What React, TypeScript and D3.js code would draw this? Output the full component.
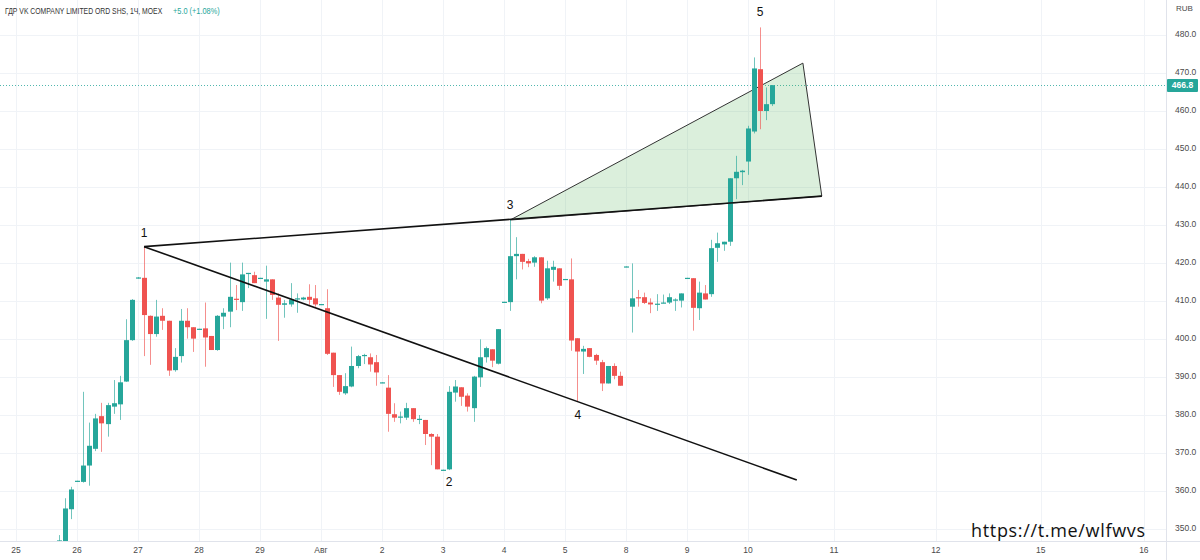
import React from "react";
import * as d3 from "d3";

// ---------- data ----------
const title = "ГДР VK COMPANY LIMITED ORD SHS, 1Ч, MOEX";
const changeText = "+5.0 (+1.08%)";
const currency = "RUB";
const watermark = "https://t.me/wlfwvs";

const dayLabels = ["25", "26", "27", "28", "29", "Авг", "2", "3", "4", "5", "8", "9", "10"];
const barsPerDay = 10;
const futureLabels = ["11", "12", "15", "16"];
const futureTickIdx = [134.1, 150.8, 168.0, 184.9];
const priceTicks = [350, 360, 370, 380, 390, 400, 410, 420, 430, 440, 450, 460, 470, 480];
const lastPrice = 466.8;

const firstIdx = 7; // first visible hourly bar
const opens = [
  344.0, 346.5, 355.2, 362.5, 362.4, 366.7, 371.1, 379.7, 377.6, 382.2, 382.8, 388.8, 399.7,
  416.0, 416.1, 406.1, 401.3, 406.1, 404.8, 391.8, 395.5, 404.8, 403.1,
  402.5, 402.8, 400.8, 397.1, 405.9, 407.2, 410.6, 409.7, 417.2, 416.8,
  415.9, 415.1, 415.7, 410.9, 409.0, 409.1, 410.6, 410.4, 411.1, 410.7,
  409.0, 408.1, 396.4, 390.5, 385.7, 387.5, 392.9, 395.6, 395.2, 393.9,
  388.4, 387.2, 380.2, 379.4, 379.3, 381.8, 378.8, 378.7, 375.0, 374.3,
  365.4, 365.7, 385.9, 387.3, 385.1, 381.8, 389.9, 395.2, 397.3, 393.5,
  409.6, 409.7, 421.8, 422.4, 420.5, 420.1, 421.5, 410.7, 418.2, 418.6,
  415.6, 415.7, 400.2, 396.7, 397.6, 395.8, 393.9, 388.3, 392.9, 390.3,
  418.9, 408.5, 411.0, 411.0, 409.6, 409.1, 409.4, 409.6, 410.2, 410.1,
  415.9, 416.0, 408.1, 412.0, 411.8, 424.0, 424.9, 425.6, 442.3, 443.9,
  446.7, 454.6, 471.0, 460.0, 461.8,
];
const highs = [
  348.4, 358.1, 361.1, 362.7, 386.1, 378.0, 380.3, 383.2, 383.2, 389.2, 390.3, 405.2, 410.5,
  416.3, 424.3, 406.2, 410.3, 408.1, 404.8, 397.6, 407.9, 408.1, 403.1,
  402.7, 409.6, 400.8, 406.3, 408.1, 420.1, 414.2, 420.1, 417.4, 417.7,
  416.1, 419.3, 415.7, 412.0, 410.3, 414.7, 412.0, 411.1, 414.4, 414.2,
  409.2, 413.1, 396.4, 390.5, 391.0, 398.0, 395.8, 396.1, 396.2, 395.8,
  388.6, 390.5, 383.1, 380.9, 383.2, 381.8, 380.0, 378.7, 375.2, 375.0,
  365.6, 387.6, 389.2, 387.3, 385.7, 390.3, 399.9, 398.0, 397.3, 402.6,
  409.8, 431.3, 426.8, 422.4, 421.1, 421.8, 421.5, 420.6, 420.6, 418.6,
  415.8, 421.2, 400.2, 398.2, 397.6, 396.1, 394.5, 392.9, 393.6, 391.4,
  419.1, 419.9, 412.9, 412.2, 410.7, 411.8, 411.7, 412.0, 410.7, 412.0,
  416.1, 416.0, 415.1, 414.2, 426.1, 428.0, 425.6, 442.3, 448.2, 444.5,
  456.1, 474.1, 482.0, 466.2, 466.8,
];
const lows = [
  343.0, 345.5, 352.6, 362.5, 362.2, 361.4, 370.5, 370.3, 374.3, 380.3, 378.7, 388.7, 399.5,
  415.9, 395.5, 393.2, 400.6, 402.4, 390.3, 391.4, 393.8, 400.1, 396.6,
  402.5, 392.7, 397.1, 396.9, 402.6, 403.1, 407.6, 407.4, 413.4, 414.7,
  415.9, 405.3, 410.3, 399.5, 405.6, 408.5, 406.9, 410.2, 409.0, 408.5,
  409.0, 395.8, 387.4, 385.3, 385.3, 387.3, 392.3, 393.4, 391.4, 387.7,
  388.4, 375.6, 378.2, 377.8, 378.7, 378.2, 377.6, 372.1, 366.8, 365.7,
  365.4, 365.5, 383.5, 382.4, 380.9, 378.2, 387.4, 393.8, 392.6, 393.3,
  409.6, 407.4, 415.7, 418.3, 418.9, 419.0, 409.4, 410.3, 415.1, 412.9,
  415.6, 396.9, 383.5, 390.8, 395.2, 393.2, 386.3, 388.3, 389.4, 387.7,
  418.9, 401.7, 408.5, 409.2, 406.8, 407.4, 409.4, 409.2, 407.4, 408.3,
  415.9, 402.2, 405.0, 410.4, 411.1, 420.3, 423.2, 424.5, 436.8, 440.5,
  443.2, 454.1, 455.2, 457.6, 461.3,
];
const closes = [
  347.0, 355.4, 360.4, 362.7, 366.7, 371.9, 379.1, 377.8, 382.6, 383.1, 388.6, 399.7, 410.3,
  416.2, 406.3, 401.3, 405.9, 404.8, 391.7, 395.3, 404.8, 403.1, 400.1,
  402.7, 400.4, 397.1, 406.1, 406.9, 411.1, 410.3, 417.0, 417.4, 414.7,
  416.1, 415.7, 411.6, 409.0, 409.4, 410.4, 410.7, 410.9, 410.3, 409.1,
  409.2, 396.1, 390.5, 386.1, 387.6, 392.9, 395.5, 395.8, 393.3, 391.2,
  388.6, 380.3, 379.3, 379.6, 381.8, 378.9, 379.0, 375.0, 374.3, 365.7,
  365.6, 386.1, 387.5, 384.8, 382.2, 390.1, 395.2, 397.6, 394.3, 402.6,
  409.8, 421.8, 422.4, 420.3, 419.9, 421.5, 410.1, 418.6, 419.0, 414.0,
  415.8, 399.6, 396.7, 397.4, 395.3, 394.3, 388.3, 392.9, 390.3, 387.7,
  419.1, 410.7, 410.8, 409.5, 409.1, 409.3, 409.6, 411.0, 410.4, 412.0,
  416.1, 408.2, 412.2, 410.4, 423.9, 425.2, 425.6, 442.3, 444.0, 444.3,
  455.4, 471.2, 460.0, 461.8, 466.8,
];

// wave drawing anchors, in (bar index, price)
const waveStart = { i: 21, p: 424.3 };
const lowerLineEnd = { i: 128, p: 362.9 };
const wedgeA = { i: 81, p: 431.3 };
const wedgeApex = { i: 129, p: 472.6 };
const wedgeB = { i: 132.1, p: 437.6 };
const waveLabels = [
  { t: "1", i: 21, p: 424.3, dy: -13 },
  { t: "2", i: 71, p: 365.5, dy: 13 },
  { t: "3", i: 81, p: 431.3, dy: -14 },
  { t: "4", i: 92.1, p: 383.5, dy: 14 },
  { t: "5", i: 122, p: 482.0, dy: -15 },
];

// ---------- chart ----------
const W = 1200;
const H = 560;
const plotRight = 1166;
const plotBottom = 541;
const UP = "#26a69a";
const DOWN = "#ef5350";
const GRID = "#f0f3f7";
const BORDER = "#e0e3eb";
const TXT = "#4a4a4a";

export default function App() {
  const x = d3.scaleLinear().domain([0, 124]).range([16, 16 + 124 * 6.1]);
  const y = d3.scaleLinear().domain([350, 480]).range([529, 35]);

  const candles = opens.map((o, k) => ({
    i: k + firstIdx,
    o,
    h: highs[k],
    l: lows[k],
    c: closes[k],
  }));

  const dayTicks = dayLabels.map((t, k) => ({ t, i: k * barsPerDay }));
  const futTicks = futureLabels.map((t, k) => ({ t, i: futureTickIdx[k] }));
  const allTicks = [...dayTicks, ...futTicks];

  const line = d3
    .line<{ i: number; p: number }>()
    .x((d) => x(d.i))
    .y((d) => y(d.p));

  const font = "'Liberation Sans', Arial, sans-serif";

  return (
    <div>
      <style>{`body{margin:0;background:#fff}`}</style>
      <svg width={W} height={H} style={{ display: "block", fontFamily: font }}>
        <rect x={0} y={0} width={W} height={H} fill="#fff" />
        <defs>
          <clipPath id="plot">
            <rect x={0} y={0} width={plotRight} height={plotBottom} />
          </clipPath>
        </defs>

        {/* grid */}
        {priceTicks.map((p) => (
          <line key={"h" + p} x1={0} x2={plotRight} y1={Math.round(y(p)) + 0.5} y2={Math.round(y(p)) + 0.5} stroke={GRID} />
        ))}
        {allTicks.map((d) => (
          <line key={"v" + d.t} y1={0} y2={plotBottom} x1={Math.round(x(d.i)) + 0.5} x2={Math.round(x(d.i)) + 0.5} stroke={GRID} />
        ))}

        <g clipPath="url(#plot)">
          {/* current price dotted line */}
          <line x1={0} x2={plotRight} y1={Math.round(y(lastPrice)) + 0.5} y2={Math.round(y(lastPrice)) + 0.5} stroke={UP} strokeDasharray="1,2" opacity={0.8} />

          {/* wedge fill */}
          <path
            d={line([wedgeA, wedgeApex, wedgeB])! + "Z"}
            fill="rgba(76,175,80,0.2)"
            stroke="#333"
            strokeWidth={1}
          />

          {/* candles */}
          {candles.map((d) => {
            const col = d.c >= d.o ? UP : DOWN;
            const cx = Math.round(x(d.i));
            const top = y(Math.max(d.o, d.c));
            const bot = y(Math.min(d.o, d.c));
            return (
              <g key={d.i}>
                <line x1={cx + 0.5} x2={cx + 0.5} y1={y(d.h)} y2={y(d.l)} stroke={col} strokeOpacity={0.65} />
                <rect x={cx - 2} y={top} width={5} height={Math.max(1.2, bot - top)} fill={col} />
              </g>
            );
          })}

          {/* wave lines */}
          <path d={line([waveStart, wedgeB])!} stroke="#111" strokeWidth={1.6} fill="none" />
          <path d={line([waveStart, lowerLineEnd])!} stroke="#111" strokeWidth={1.6} fill="none" />

          {waveLabels.map((d) => (
            <text key={d.t} x={x(d.i)} y={y(d.p) + d.dy} textAnchor="middle" dominantBaseline="middle" fontSize={12} fill="#111">
              {d.t}
            </text>
          ))}
        </g>

        {/* borders */}
        <line x1={0} x2={W} y1={plotBottom + 0.5} y2={plotBottom + 0.5} stroke={BORDER} />
        <line x1={plotRight + 0.5} x2={plotRight + 0.5} y1={0} y2={H} stroke={BORDER} />

        {/* price axis */}
        <text x={1176} y={11} fontSize={8} fill={TXT}>
          {currency}
        </text>
        {priceTicks.map((p) => (
          <text key={"pt" + p} x={1175} y={y(p)} dominantBaseline="middle" fontSize={8.5} fill={TXT}>
            {p.toFixed(1)}
          </text>
        ))}
        <rect x={1167} y={Math.round(y(lastPrice)) - 6} width={31} height={13} fill={UP} rx={1} />
        <text x={1182.5} y={y(lastPrice) + 1} textAnchor="middle" dominantBaseline="middle" fontSize={8.5} fill="#fff" fontWeight="bold">
          {lastPrice.toFixed(1)}
        </text>

        {/* time axis */}
        {allTicks.map((d) => (
          <text key={"tt" + d.t} x={x(d.i)} y={551} textAnchor="middle" dominantBaseline="middle" fontSize={8.5} fill={TXT}>
            {d.t}
          </text>
        ))}

        {/* header */}
        <g transform="translate(5,14) scale(0.76,1)">
          <text x={0} y={0} fontSize={9} fill="#333">
            {title}
          </text>
        </g>
        <g transform="translate(173,14) scale(0.82,1)">
          <text x={0} y={0} fontSize={9} fill={UP}>
            {changeText}
          </text>
        </g>

        {/* watermark */}
        <text x={971} y={537} fontSize={18} fontFamily="'Open Sans', 'DejaVu Sans', sans-serif" fill="#111" textLength={174} lengthAdjust="spacing">
          {watermark}
        </text>
      </svg>
    </div>
  );
}
